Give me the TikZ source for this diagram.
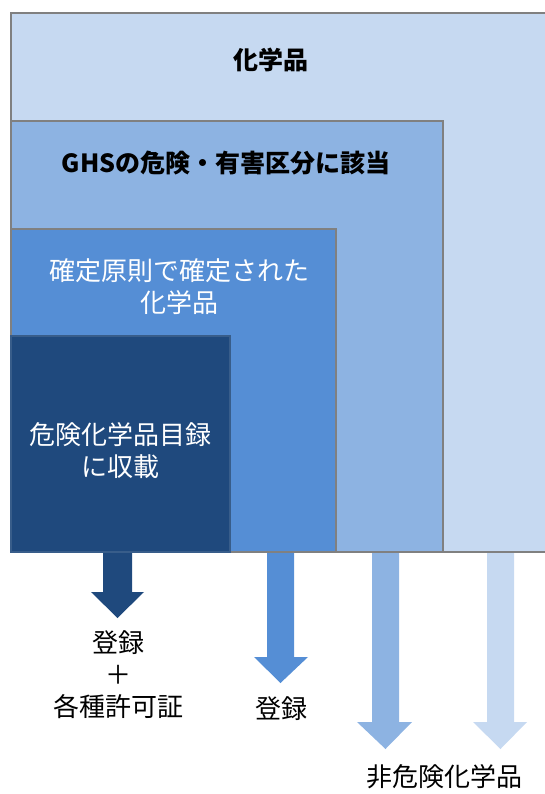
\documentclass[tikz,border=0pt]{standalone}
\usepackage{fontspec}
\setmainfont{Noto Sans CJK JP}
\definecolor{c1}{HTML}{C6D9F1}
\definecolor{c2}{HTML}{8DB3E2}
\definecolor{c3}{HTML}{558ED5}
\definecolor{c4}{HTML}{1F497D}
\definecolor{c4edge}{HTML}{385D8A}
\definecolor{edge}{HTML}{808080}
\begin{document}
\begin{tikzpicture}[x=1pt,y=-1pt,
  box/.style={draw=edge,line width=1.5pt},
  lbl/.style={align=center,inner sep=0pt,font=\fontsize{26}{32}\selectfont},
  blbl/.style={align=center,inner sep=0pt,font=\fontsize{25}{32}\selectfont\bfseries}]
\useasboundingbox (0,0) rectangle (544,794);
% boxes
\path[box,fill=c1] (11,13) rectangle (548,552);
\path[box,fill=c2] (11,121) rectangle (443,552);
\path[box,fill=c3] (11,229) rectangle (336,552);
\path[draw=c4edge,line width=2pt,fill=c4] (11,336) rectangle (230,552);
% labels
\node[blbl] (t1) at (271,60) {化学品};
\node[blbl] (t2) at (226,163) {GHSの危険・有害区分に該当};
\node[lbl,text=white] (t3) at (179,287) {確定原則で確定された\\化学品};
\node[lbl,text=white] (t4) at (120,451) {危険化学品目録\\に収載};
\node[lbl] (t5) at (118,675) {登録\\＋\\各種許可証};
\node[lbl] (t6) at (281,709) {登録};
\node[lbl] (t7) at (444,777) {非危険化学品};
% block arrows
\foreach \xl/\xr/\hl/\hr/\ht/\tip/\col in {103/132/91/144/592/618/c4, 267/294/254/308/657/683/c3, 372/399/357/412/722/749/c2, 487/514/473/527/722/749/c1}{
  \fill[\col] (\xl,553) -- (\xr,553) -- (\xr,\ht) -- (\hr,\ht) -- ({(\xl+\xr)/2},\tip) -- (\hl,\ht) -- (\xl,\ht) -- cycle;
}
\end{tikzpicture}
\end{document}
